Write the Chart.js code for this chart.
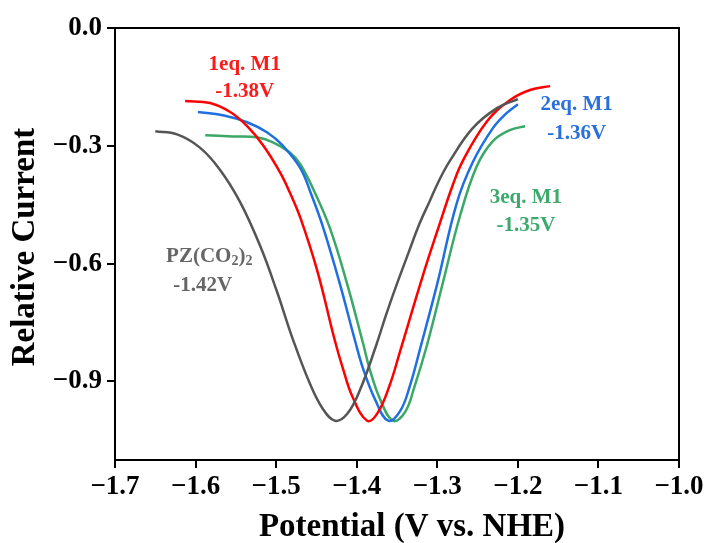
<!DOCTYPE html>
<html>
<head>
<meta charset="utf-8">
<script src="https://cdn.jsdelivr.net/npm/chart.js@4/dist/chart.umd.min.js"></script>
<style>
    html, body { margin: 0; padding: 0; background: #fff; }
    canvas { display: block; }
</style>
</head>
<body>
<canvas id="cvChart" width="708" height="543"></canvas>
<script>
// values (potential V vs NHE, relative current)
const pzX = [-1.650, -1.623, -1.595, -1.570, -1.545, -1.520, -1.499, -1.479, -1.458, -1.442, -1.427, -1.412, -1.396, -1.376, -1.364, -1.350, -1.336, -1.322, -1.309, -1.297, -1.284, -1.256, -1.226, -1.200];
const pzY = [-0.263, -0.271, -0.304, -0.360, -0.442, -0.554, -0.671, -0.794, -0.906, -0.970, -1.000, -0.983, -0.922, -0.809, -0.733, -0.651, -0.574, -0.498, -0.439, -0.385, -0.337, -0.255, -0.204, -0.181];

const eq1X = [-1.613, -1.582, -1.557, -1.536, -1.516, -1.495, -1.483, -1.470, -1.449, -1.427, -1.417, -1.405, -1.387, -1.374, -1.359, -1.346, -1.318, -1.299, -1.281, -1.268, -1.238, -1.210, -1.185, -1.160];
const eq1Y = [-0.186, -0.191, -0.214, -0.250, -0.299, -0.368, -0.419, -0.483, -0.618, -0.797, -0.868, -0.940, -1.000, -0.980, -0.909, -0.822, -0.631, -0.511, -0.401, -0.337, -0.237, -0.184, -0.158, -0.148];

const eq2X = [-1.597, -1.566, -1.536, -1.511, -1.492, -1.470, -1.456, -1.442, -1.421, -1.402, -1.392, -1.377, -1.361, -1.346, -1.334, -1.322, -1.300, -1.276, -1.256, -1.231, -1.214, -1.200];
const eq2Y = [-0.214, -0.222, -0.240, -0.266, -0.299, -0.357, -0.426, -0.506, -0.651, -0.797, -0.868, -0.947, -1.000, -0.975, -0.911, -0.822, -0.651, -0.447, -0.342, -0.255, -0.217, -0.194];

const eq3X = [-1.588, -1.554, -1.524, -1.504, -1.483, -1.470, -1.452, -1.433, -1.412, -1.392, -1.384, -1.371, -1.355, -1.340, -1.328, -1.313, -1.293, -1.272, -1.251, -1.231, -1.210, -1.191];
const eq3Y = [-0.273, -0.276, -0.278, -0.291, -0.317, -0.347, -0.419, -0.511, -0.651, -0.804, -0.868, -0.945, -1.000, -0.978, -0.911, -0.809, -0.648, -0.480, -0.352, -0.288, -0.260, -0.250];

const xTicks = [-1.7, -1.6, -1.5, -1.4, -1.3, -1.2, -1.1, -1.0];
const yTicks = [-0.9, -0.6, -0.3, 0.0];

const seriesNames = ['PZ(CO2)2', '1eq. M1', '2eq. M1', '3eq. M1'];
const peakLabels = ['-1.42V', '-1.38V', '-1.36V', '-1.35V'];
const xTitle = 'Potential (V vs. NHE)';
const yTitle = 'Relative Current';

const colors = ['#555555', '#ff0000', '#1f6fe0', '#3aa867'];
const textColors = ['#666666', '#ff1a1a', '#2a70dc', '#3caa6c'];
const FONT = '"Liberation Serif", "Times New Roman", serif';

function toPoints(xs, ys) {
    return xs.map((x, i) => ({ x: x, y: ys[i] }));
}

function fmt(v) {
    const s = Math.abs(v).toFixed(1);
    return v < -1e-9 ? '\u2212' + s : s;
}

// where each label sits, in axis units
const labelSpots = [
    { x: -1.583, y: -0.582, y2: -0.656, x2: -1.591 },
    { x: -1.539, y: -0.092, y2: -0.163 },
    { x: -1.127, y: -0.194, y2: -0.268 },
    { x: -1.190, y: -0.431, y2: -0.503 }
];

const framePlugin = {
    id: 'frame',
    afterDraw(chart) {
        const { ctx, chartArea: a } = chart;
        ctx.save();
        ctx.strokeStyle = '#000';
        ctx.lineWidth = 2;
        ctx.strokeRect(a.left, a.top, a.right - a.left, a.bottom - a.top);

        // axis titles (the x one sits a bit right of the plot centre in the original)
        ctx.fillStyle = '#000';
        ctx.font = 'bold 33px ' + FONT;
        ctx.textAlign = 'center';
        ctx.textBaseline = 'middle';
        ctx.fillText(xTitle, 412, 527);
        ctx.translate(25, 247);
        ctx.rotate(-Math.PI / 2);
        ctx.fillText(yTitle, 0, 0);
        ctx.restore();
    }
};

const labelPlugin = {
    id: 'peakLabels',
    afterDatasetsDraw(chart) {
        const { ctx } = chart;
        const xs = chart.scales.x, ys = chart.scales.y;
        ctx.save();
        ctx.textBaseline = 'middle';
        ctx.textAlign = 'center';
        labelSpots.forEach((s, i) => {
            ctx.fillStyle = textColors[i];
            const px = xs.getPixelForValue(s.x);
            const py = ys.getPixelForValue(s.y);
            if (i === 0) {
                // PZ(CO2)2 with subscripts
                const big = 'bold 21px ' + FONT, small = 'bold 14px ' + FONT;
                const parts = [['PZ(CO', big, 0], ['2', small, 5], [')', big, 0], ['2', small, 5]];
                let w = 0;
                parts.forEach(p => { ctx.font = p[1]; w += ctx.measureText(p[0]).width; });
                let cx = px - w / 2;
                ctx.textAlign = 'left';
                parts.forEach(p => {
                    ctx.font = p[1];
                    ctx.fillText(p[0], cx, py + p[2]);
                    cx += ctx.measureText(p[0]).width;
                });
                ctx.textAlign = 'center';
                ctx.font = big;
                ctx.fillText(peakLabels[i], xs.getPixelForValue(s.x2), ys.getPixelForValue(s.y2));
            } else {
                ctx.font = 'bold 21px ' + FONT;
                ctx.fillText(seriesNames[i], px, py);
                ctx.fillText(peakLabels[i], px, ys.getPixelForValue(s.y2));
            }
        });
        ctx.restore();
    }
};

const allX = [pzX, eq1X, eq2X, eq3X];
const allY = [pzY, eq1Y, eq2Y, eq3Y];

new Chart(document.getElementById('cvChart').getContext('2d'), {
    type: 'scatter',
    data: {
        datasets: seriesNames.map((name, i) => ({
            label: name,
            data: toPoints(allX[i], allY[i]),
            showLine: true,
            borderColor: colors[i],
            backgroundColor: colors[i],
            borderWidth: 2.5,
            pointRadius: 0,
            tension: 0.4
        }))
    },
    options: {
        responsive: false,
        animation: false,
        layout: { padding: { top: 28, right: 29, left: 0, bottom: 0 } },
        plugins: {
            legend: { display: false },
            tooltip: { enabled: false }
        },
        scales: {
            x: {
                type: 'linear',
                min: -1.7,
                max: -1.0,
                afterBuildTicks: s => { s.ticks = xTicks.map(v => ({ value: v })); },
                afterFit: s => { s.height = 83; },
                grid: {
                    drawOnChartArea: false,
                    drawTicks: true,
                    tickLength: 8,
                    color: '#000',
                    lineWidth: 2
                },
                border: { display: true, color: '#000', width: 2 },
                ticks: {
                    color: '#000',
                    padding: 3,
                    maxRotation: 0,
                    font: { family: FONT, size: 27, weight: 'bold' },
                    callback: v => fmt(v)
                },
                title: { display: false }
            },
            y: {
                type: 'linear',
                min: -1.1,
                max: 0,
                afterBuildTicks: s => { s.ticks = yTicks.map(v => ({ value: v })); },
                afterFit: s => { s.width = 115; },
                grid: {
                    drawOnChartArea: false,
                    drawTicks: true,
                    tickLength: 8,
                    color: '#000',
                    lineWidth: 2
                },
                border: { display: true, color: '#000', width: 2 },
                ticks: {
                    color: '#000',
                    padding: 5,
                    font: { family: FONT, size: 27, weight: 'bold' },
                    callback: v => fmt(v)
                },
                title: { display: false }
            }
        }
    },
    plugins: [framePlugin, labelPlugin]
});
</script>
</body>
</html>
